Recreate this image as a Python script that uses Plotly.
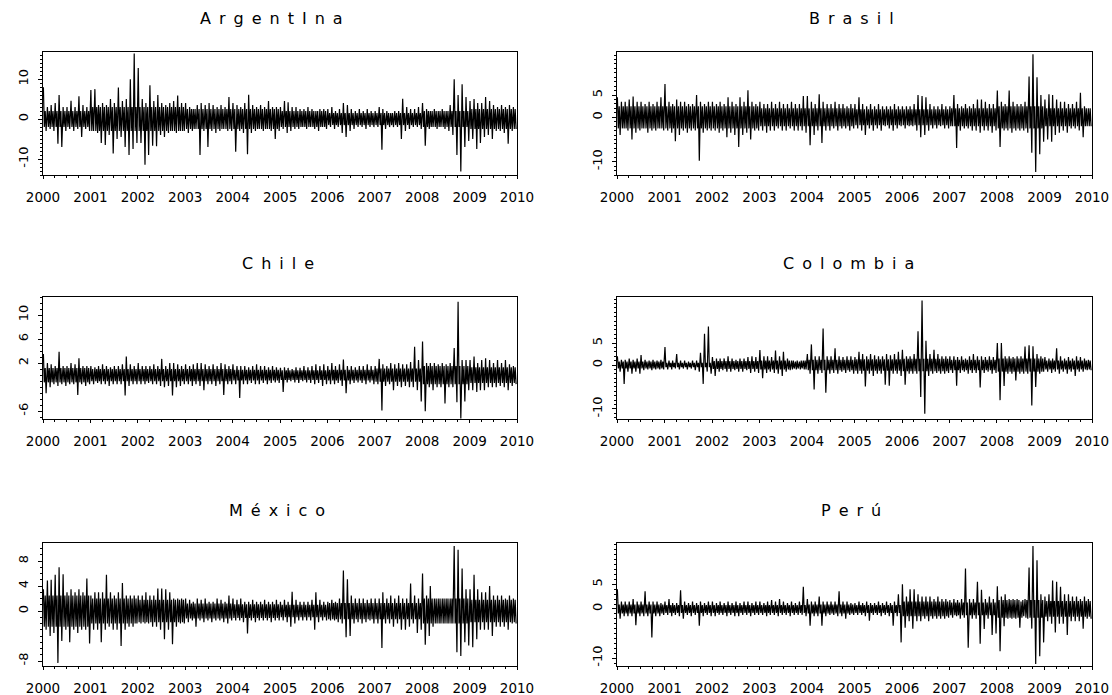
import pandas as pd
import plotly.graph_objects as go

# ---------------- data (daily returns, %) ----------------
# per month: highest and lowest daily return; per year: half-width of the dense core band
MONTHS = pd.date_range("2000-01-01", periods=120, freq="MS")
YEAR_TICKS = [f"{y}-01-01" for y in range(2000, 2011)]
YEAR_LABELS = [str(y) for y in range(2000, 2011)]

ARG_HI = [8, 3, 3.5, 4, 6, 3, 3, 4.6, 3, 5.7, 3.5, 3,
          7.3, 7.5, 3.5, 4, 3.5, 5, 4, 7.9, 4.5, 5, 10, 16.4,
          12.8, 5, 4, 8.5, 4.5, 6, 4, 3.5, 4, 4.5, 5.9, 4,
          4, 3, 2.5, 3.5, 4, 3.5, 4, 3.5, 3, 3.5, 3, 5.5,
          4, 3.5, 3, 4, 6.1, 3.5, 3, 3.5, 3, 4.5, 3, 3,
          3, 4.5, 4.2, 3, 3, 2.5, 2.5, 3, 2.5, 2, 2.5, 2.5,
          2.5, 3, 2, 2.5, 4, 3.5, 2.5, 2, 2.5, 2, 2.5, 2,
          2, 3, 2.5, 2, 1.5, 2, 2, 5.1, 3, 2.5, 2.5, 3,
          4, 2.5, 2, 2.5, 2, 2.5, 2, 3.5, 10, 6, 8.7, 5.5,
          4.5, 5, 4, 4, 5.5, 4.5, 3.5, 3, 3.5, 3, 3.5, 3]
ARG_LO = [-3, -2.5, -3, -6.2, -7, -3, -2.5, -3, -2.5, -4.5, -2.5, -3,
          -3, -3.5, -6, -6.5, -4, -8.6, -5, -4.5, -7, -9, -7.5, -6,
          -6, -11.4, -9, -6.7, -6.8, -4, -4.5, -3.5, -3, -3.5, -3, -3,
          -3.5, -3, -2.5, -9, -3, -7, -3, -3.5, -3, -2.5, -3, -3,
          -8.2, -3, -3.5, -8.8, -3.5, -3, -2.5, -3, -2.5, -3, -5, -3,
          -2.5, -3.5, -3, -2.5, -2.5, -2, -2.5, -2, -2.5, -3, -2, -2.5,
          -2, -2.5, -2, -3.5, -4.5, -3, -2.5, -2, -2, -2.5, -2, -2,
          -2, -7.7, -2.5, -2, -2, -2, -5, -3, -2.5, -2, -2, -2.5,
          -6.7, -2.5, -2, -2.5, -2, -2.5, -3, -4, -9, -13.1, -7, -5.5,
          -5, -7.5, -6, -4.5, -4, -5, -3, -3, -3.5, -6.2, -3, -2.5]
ARG_CORE = [2, 3, 3, 2.5, 2.5, 2, 1.5, 1.5, 2, 2.5]

BRA_HI = [4.5, 3.5, 3.5, 4, 4.7, 3.5, 3.5, 3, 3.5, 3, 3.5, 4.5,
          7.5, 3.5, 3, 4, 3.5, 3.5, 3, 3, 5, 3.5, 3, 3.5,
          3.5, 3, 3.5, 3, 4.5, 3.5, 3, 4.5, 3.5, 6.1, 3.5, 3,
          3.5, 3, 3, 3.5, 3, 3.5, 3, 3, 3.5, 3, 3, 4.8,
          4.8, 3.5, 3, 5.2, 3.5, 3, 3, 3.5, 3, 3, 2.5, 3,
          3, 4.5, 3, 2.5, 3, 2.5, 3, 2.5, 2.5, 2.5, 3, 2.5,
          2.5, 2.5, 2.5, 3, 5, 4.8, 4.5, 3, 2.5, 2.5, 3, 2.5,
          2.5, 5, 3, 2.5, 3, 2.5, 3, 4, 4, 3.5, 3, 3,
          6, 3.5, 3, 6, 3.5, 3, 3, 3.5, 9.2, 14.2, 9, 5,
          4, 5.2, 5, 4, 3.5, 3.5, 3, 3, 3.5, 5.5, 2.5, 2]
BRA_LO = [-4, -2.5, -3, -5, -3.5, -3, -2.5, -3.5, -3, -3, -2.5, -3,
          -3, -3.5, -5.4, -4, -3, -3.5, -3, -3, -9.8, -3.5, -3, -3,
          -3, -3.5, -3, -4.5, -3.5, -4, -6.7, -4, -3.5, -5, -3, -3,
          -3, -3.5, -3, -3, -2.5, -3, -3, -2.5, -3, -3, -3, -3.5,
          -6.3, -4, -3, -5.8, -3, -3, -2.5, -3, -2.5, -2.5, -3, -2.5,
          -2.5, -3, -4, -2.5, -3, -2.5, -3, -2, -2.5, -3, -2.5, -2,
          -2.5, -2, -2, -3, -4.5, -4, -3, -2.5, -2.5, -2, -2.5, -2.5,
          -2, -6.9, -3, -2.5, -2.5, -3, -3, -3.5, -3, -3, -3.5, -3,
          -6.7, -3, -3, -3.5, -3, -3, -3, -3.5, -8, -12.3, -8.3, -5.5,
          -5, -5.5, -4, -3.5, -3, -3.5, -2.5, -2.5, -3, -4.5, -2, -2]
BRA_CORE = [2.5, 2.5, 2.5, 2, 2, 1.8, 1.8, 2, 2.5, 2]

CHL_HI = [3.5, 2, 1.8, 1.5, 3.9, 1.5, 1.5, 2, 1.8, 2.8, 1.5, 1.5,
          1.5, 1.3, 1.5, 1.8, 1.5, 1.3, 1.5, 1.5, 1.8, 3.1, 1.8, 1.5,
          2, 1.5, 1.5, 1.5, 1.8, 1.5, 2.7, 1.5, 2, 2, 1.8, 1.5,
          1.8, 1.5, 1.8, 2, 2, 1.8, 1.5, 1.8, 1.5, 2, 1.8, 1.5,
          1.8, 1.5, 1.5, 1.5, 1.3, 1.5, 1.8, 1.5, 1.5, 1.3, 1.5, 1.3,
          1.2, 1.3, 1.2, 1, 1.3, 1.2, 1.5, 1.3, 1.5, 1.8, 1.5, 1.8,
          1.5, 2, 1.5, 1.8, 2.6, 1.5, 1.5, 1.3, 1.5, 1.5, 1.8, 1.5,
          1.5, 2.7, 1.8, 1.5, 2, 1.8, 2, 1.8, 1.8, 2.2, 4.7, 2.5,
          5.6, 2, 2, 2, 1.8, 2, 1.8, 2, 4.5, 12.2, 2.5, 2.5,
          2.5, 3.1, 2, 2.5, 2.8, 2.5, 2, 2.5, 2, 2.5, 1.8, 1.5]
CHL_LO = [-3, -2, -1.5, -1.8, -1.5, -1.8, -1.5, -1.5, -3.3, -1.5, -1.8, -1.5,
          -1.5, -1.3, -1.5, -1.5, -1.8, -1.5, -1.5, -1.5, -3.4, -1.8, -1.5, -1.5,
          -1.5, -1.5, -1.3, -1.5, -1.5, -1.8, -2, -1.8, -3.4, -2, -1.8, -1.5,
          -1.5, -1.8, -1.5, -1.8, -2.5, -1.5, -1.5, -1.8, -1.5, -3.3, -1.5, -1.5,
          -1.5, -3.8, -1.5, -1.5, -1.3, -1.5, -1.5, -1.3, -1.5, -1.3, -1.2, -1.3,
          -2.8, -1.2, -1, -1.2, -1.3, -1, -1.2, -1.3, -1.5, -1.3, -1.8, -1.5,
          -1.5, -1.5, -1.3, -1.8, -3, -1.5, -1.3, -1.2, -1.3, -1.5, -1.2, -1.5,
          -1.5, -5.9, -1.8, -1.5, -2.5, -1.8, -2, -1.8, -2, -2, -2.5, -4.4,
          -6, -2, -2.5, -2, -2, -4.7, -2, -2, -4.5, -7.2, -4.4, -2.5,
          -2.5, -2.8, -2.5, -2.5, -2, -2, -2, -1.8, -2, -2.5, -1.8, -1.5]
CHL_CORE = [1.2, 1, 1, 1, 0.9, 0.8, 0.9, 1.1, 1.5, 1.3]

COL_HI = [2, 1.2, 1.2, 1.5, 1.2, 1.5, 2.3, 1.2, 1, 1.2, 1, 1.2,
          4.1, 1, 1, 2.5, 1, 1, 0.8, 1, 1, 2.8, 7.1, 8.8,
          1.8, 1.5, 1.5, 1.5, 2, 1.5, 1.2, 1.5, 1.5, 1.8, 2, 1.8,
          3.4, 2, 2, 1.8, 3.3, 2, 3, 1.5, 1, 0.8, 0.8, 1,
          2.5, 4.7, 2, 2, 8.3, 2, 2, 3.8, 2, 1.8, 2, 2,
          1.8, 3, 2.5, 2, 2.5, 2.2, 2, 2, 2.5, 2.2, 2.5, 3,
          3.5, 2, 2, 2.5, 7.7, 14.7, 5.5, 2.5, 3.5, 2.5, 2, 2,
          2, 2, 1.8, 2, 1.5, 2, 2.5, 2, 2, 1.8, 2, 1.8,
          5, 5, 2, 2, 1.8, 2, 2, 4.2, 4.5, 4.3, 2.5, 2,
          1.8, 1.5, 1.5, 3.8, 2, 1.5, 1.8, 1.5, 2, 1.8, 1.5, 1.2]
COL_LO = [-1.5, -4.3, -1.5, -2, -1.5, -2, -1.2, -1, -1.2, -1, -1, -1,
          -1, -1, -0.8, -1, -0.8, -1, -0.8, -1.2, -1.5, -4.3, -1.5, -2,
          -2.5, -1.5, -1.2, -1.5, -1.5, -1.2, -1.5, -1.5, -1.2, -1.8, -1.5, -1.8,
          -3, -1.8, -1.5, -1.8, -2, -2.5, -1.5, -1.2, -0.8, -0.8, -0.8, -1,
          -2, -5.6, -2, -1.8, -6.3, -2, -1.8, -2, -1.5, -1.8, -1.5, -2,
          -2, -2, -4.9, -2, -2.5, -2, -2, -4.5, -4.7, -2, -2, -2.5,
          -4.5, -2, -2, -2, -7.3, -11.1, -2.5, -2, -1.8, -2, -2, -1.8,
          -1.8, -4.7, -1.8, -1.5, -2, -1.8, -1.8, -5.1, -1.8, -1.5, -2, -1.8,
          -8, -4.8, -2, -2, -3.5, -2, -2, -2, -9.2, -5, -2, -1.5,
          -1.5, -1.8, -1.5, -2, -1.5, -2, -1.5, -2.5, -1.5, -1.5, -1.2, -1.2]
COL_CORE = [0.8, 0.5, 0.9, 1, 1.2, 1.3, 1.4, 1.2, 1.5, 1]

MEX_HI = [3.5, 4.9, 5, 5.8, 7, 5.9, 3, 3.5, 3, 3.5, 3, 5.2,
          2.5, 3, 3, 3, 5.8, 3, 2.5, 3, 4.5, 2.5, 2.5, 2.5,
          2.5, 2.5, 3, 2.5, 2.5, 3.6, 3.6, 3.5, 3, 2, 2, 2,
          2, 1.8, 1.5, 2, 1.8, 2, 1.5, 1.5, 2, 1.8, 1.5, 2.5,
          2, 1.8, 2, 1.5, 1.5, 1.8, 1.5, 1.5, 1.8, 1.5, 1.5, 1.8,
          1.5, 1.8, 1.5, 3.1, 1.8, 1.5, 1.5, 1.5, 1.8, 3, 1.8, 1.5,
          1.5, 1.8, 1.5, 2, 6.5, 5.1, 2.5, 2, 2, 2, 1.8, 2,
          2, 2, 3, 2, 2.5, 2, 2.5, 2, 2, 4.4, 2.5, 2,
          6, 2.5, 4, 2, 2, 2, 2, 2, 10.4, 9.8, 6.8, 3.5,
          3.5, 5.8, 3.5, 3, 3, 4, 2.5, 2.5, 2.5, 2, 2.5, 2]
MEX_LO = [-3, -4, -3.5, -8.3, -4.8, -3, -5, -3, -3.5, -3, -3, -5.2,
          -3, -3, -5, -3, -2.5, -3, -3, -5.6, -3, -2.5, -2.5, -2,
          -2, -2, -2, -2.5, -2.5, -3, -4.5, -3, -5.3, -2.5, -2, -2,
          -1.8, -1.5, -2.5, -1.5, -1.8, -1.5, -1.8, -1.5, -1.5, -1.8, -2, -1.5,
          -1.5, -1.5, -1.8, -3.6, -1.5, -1.8, -1.5, -1.5, -1.5, -1.8, -1.5, -1.5,
          -1.5, -1.8, -2.5, -2, -1.5, -1.5, -1.5, -1.5, -3, -1.8, -1.5, -1.5,
          -1.5, -1.5, -1.8, -2, -4.2, -4, -2, -1.8, -2, -1.8, -1.5, -2,
          -2, -5.9, -2, -2, -2.5, -2, -3, -3, -2.5, -2, -3.5, -3,
          -5.4, -4, -2.5, -2, -2, -2, -2, -2, -6.6, -7.2, -5, -5.5,
          -5.8, -4.5, -3, -3, -3, -4, -2.5, -2.5, -2.5, -3, -2, -2]
MEX_CORE = [2.5, 2, 1.8, 1.2, 1.1, 1, 1.3, 1.3, 2, 1.8]

PER_HI = [4, 1.5, 1.5, 1.5, 2, 1.5, 1.5, 3.6, 1.5, 1.5, 1.5, 1.2,
          1.5, 2, 1.2, 1.2, 3.8, 1.5, 1.2, 1.5, 1.2, 1.5, 1.2, 1.5,
          1.5, 1.2, 1.5, 1.2, 1.5, 1.2, 1.5, 1.2, 1.5, 1.5, 1.2, 1.5,
          1.5, 1.2, 1.5, 1.8, 1.5, 2, 1.5, 1.2, 1.5, 1.2, 1.5, 4.5,
          2, 1.5, 1.5, 2.5, 1.5, 1.5, 1.5, 1.5, 3.6, 1.5, 1.5, 1.2,
          1.2, 1.5, 1.2, 1.5, 1.2, 1.2, 1.5, 1.2, 1.5, 1.2, 1.5, 3,
          5, 2.5, 4, 4, 3, 2.5, 2.5, 2.5, 2, 2.5, 2, 2,
          1.8, 2, 1.8, 2, 8.2, 2, 2, 5.5, 3.9, 2, 2.5, 2,
          4.6, 2.5, 3, 2, 2, 2, 1.5, 2, 8.4, 12.8, 9.9, 3,
          2.5, 3, 5.8, 5.5, 4.5, 3, 3, 2.5, 2.5, 2, 2.5, 2]
PER_LO = [-2, -1.5, -1.5, -1.5, -3.3, -1.5, -1.5, -1.5, -5.8, -1.5, -1.5, -1.2,
          -1.2, -1.5, -1.2, -1.5, -2, -1.2, -1.5, -1.2, -3.4, -1.5, -1.2, -1.5,
          -1.5, -1.2, -1.2, -1.5, -1.2, -1.5, -1.5, -1.2, -1.2, -1.5, -1.2, -1.2,
          -1.2, -1.5, -1.2, -1.2, -1.5, -1.2, -1.2, -1.5, -1.2, -1.2, -1.2, -1.5,
          -3.4, -1.5, -1.5, -3.4, -1.5, -1.2, -1.2, -1.5, -1.5, -2, -1.2, -1.2,
          -1.2, -1.2, -1.5, -2.4, -1.2, -1.2, -1.5, -1.2, -1.5, -3.4, -1.5, -6.8,
          -3.8, -2.5, -4, -2.5, -2.5, -2, -2.5, -2, -2, -2, -2, -1.8,
          -1.8, -1.5, -2, -1.8, -7.9, -2, -2, -7.1, -4.1, -2, -5.3, -5,
          -8.6, -3.5, -2, -2, -2, -3.8, -1.5, -2, -4, -11.2, -9.6, -6.8,
          -2.5, -3, -4.8, -3, -3, -5.3, -2.5, -2.5, -2.5, -4, -2, -2]
PER_CORE = [0.9, 0.8, 0.8, 0.8, 0.9, 0.8, 1.5, 1.3, 1.8, 1.6]

TITLES = ["ArgentIna", "Brasil", "Chile", "Colombia", "México", "Perú"]
SERIES = [(ARG_HI, ARG_LO, ARG_CORE), (BRA_HI, BRA_LO, BRA_CORE),
          (CHL_HI, CHL_LO, CHL_CORE), (COL_HI, COL_LO, COL_CORE),
          (MEX_HI, MEX_LO, MEX_CORE), (PER_HI, PER_LO, PER_CORE)]
Y_TICKS = [[-10, 0, 10], [-10, 0, 5], [-6, 2, 6, 10], [-10, 0, 5], [-8, 0, 4, 8], [-10, 0, 5]]
Y_RANGES = [[-14, 16.8], [-13, 14.7], [-7.3, 13], [-12.3, 15.5], [-8.8, 10.9], [-11.6, 13.4]]

# ---------------- layout (pixels in the 1112x695 page) ----------------
W, H = 1112, 695
COLS = [(43, 517), (617, 1092)]
ROWS = [(52, 175), (297, 419), (543, 666)]
TITLE_POS = [(271, 18), (851, 18), (278, 264), (848, 264), (277, 510), (851, 510)]
DAY_OFFSETS = [3, 10, 17, 24]         # where in each month the four readings are placed


def fx(px):
    return px / W


def fy(py):
    return 1 - py / H


FONT = "DejaVu Sans, Arial, sans-serif"
fig = go.Figure()
layout = dict(width=W, height=H, margin=dict(l=0, r=0, t=0, b=0),
              paper_bgcolor="white", plot_bgcolor="white", showlegend=False,
              annotations=[])

for i, (name, (hi, lo, core)) in enumerate(zip(TITLES, SERIES)):
    r, c = divmod(i, 2)
    k = "" if i == 0 else str(i + 1)
    xs, ys = [], []
    for j, m in enumerate(MONTHS):
        cw = core[j // 12]
        for d, v in zip(DAY_OFFSETS, [hi[j], -cw, cw, lo[j]]):
            xs.append(m + pd.Timedelta(days=d))
            ys.append(v)
    fig.add_trace(go.Scatter(x=xs, y=ys, mode="lines",
                             line=dict(color="black", width=1.2),
                             xaxis="x" + k, yaxis="y" + k, hoverinfo="skip"))
    x0, x1 = COLS[c]
    y0, y1 = ROWS[r]
    layout["xaxis" + k] = dict(
        domain=[fx(x0), fx(x1)], anchor="y" + k, type="date", automargin=False,
        range=["2000-01-01", "2010-01-01"],
        tickvals=YEAR_TICKS, ticktext=YEAR_LABELS,
        ticks="outside", ticklen=3, tickcolor="black", tickwidth=1,
        minor=dict(dtick="M3", ticks="outside", ticklen=2, tickcolor="black"),
        showline=True, linecolor="black", linewidth=1, mirror=True,
        showgrid=False, zeroline=False,
        tickfont=dict(family=FONT, size=13.5, color="black"),
        ticklabelstandoff=7)
    layout["yaxis" + k] = dict(
        domain=[fy(y1), fy(y0)], anchor="x" + k, automargin=False,
        range=Y_RANGES[i], tickvals=Y_TICKS[i],
        ticktext=[str(v) for v in Y_TICKS[i]],
        tickangle=-90,
        ticks="outside", ticklen=4, tickcolor="black", tickwidth=1,
        minor=dict(dtick=1, ticks="outside", ticklen=2, tickcolor="black"),
        showline=True, linecolor="black", linewidth=1, mirror=True,
        showgrid=False, zeroline=False,
        tickfont=dict(family=FONT, size=13, color="black"),
        ticklabelstandoff=5)
    tx, ty = TITLE_POS[i]
    layout["annotations"].append(dict(
        text="\u2002".join(name), xref="paper", yref="paper",
        x=fx(tx), y=fy(ty), xanchor="center", yanchor="middle",
        showarrow=False, font=dict(family=FONT, size=16, color="black")))

fig.update_layout(**layout)
# remove the page's default 8px body margin so the figure fills the window exactly
fig.write_html("out.html",
               config={"displayModeBar": False},
               post_script="document.body.style.margin='0';"
                           "document.body.style.overflow='hidden';")
